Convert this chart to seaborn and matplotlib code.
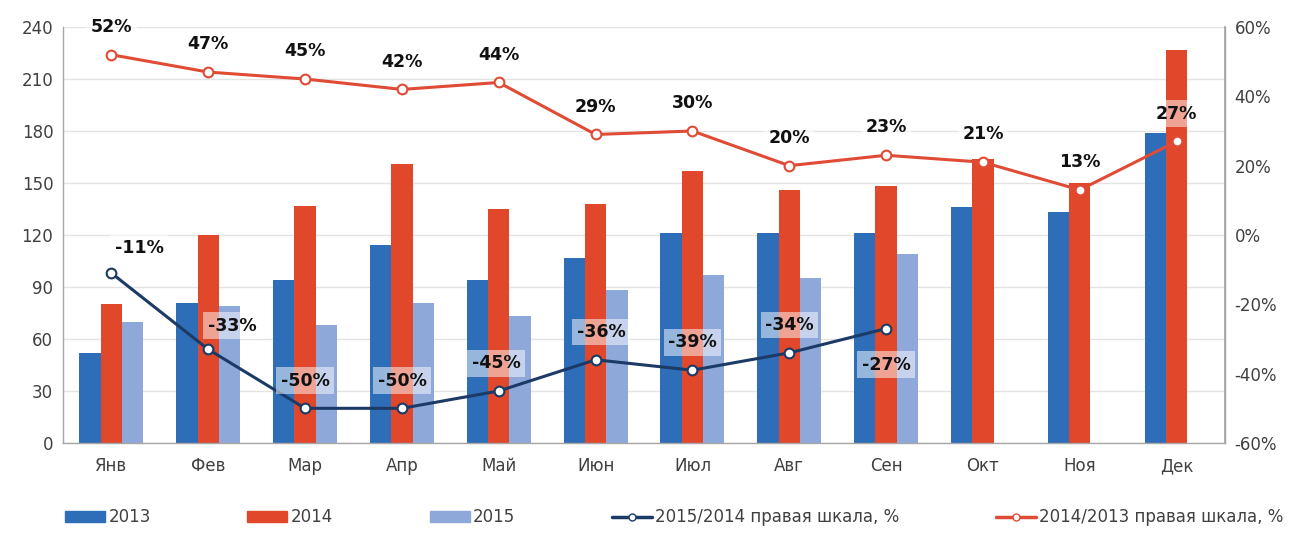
import matplotlib
matplotlib.use("Agg")
import matplotlib.pyplot as plt
from matplotlib.lines import Line2D
from matplotlib.patches import Patch
import numpy as np
import pandas as pd
import seaborn as sns

months = ["Янв", "Фев", "Мар", "Апр", "Май", "Июн", "Июл", "Авг", "Сен", "Окт", "Ноя", "Дек"]
years = ["2013", "2014", "2015"]
v2013 = [52, 81, 94, 114, 94, 107, 121, 121, 121, 136, 133, 179]
v2014 = [80, 120, 137, 161, 135, 138, 157, 146, 148, 164, 150, 227]
v2015 = [70, 79, 68, 81, 73, 88, 97, 95, 109, np.nan, np.nan, np.nan]
g15_14 = [-11, -33, -50, -50, -45, -36, -39, -34, -27]
g14_13 = [52, 47, 45, 42, 44, 29, 30, 20, 23, 21, 13, 27]
left_ticks = [0, 30, 60, 90, 120, 150, 180, 210, 240]
right_ticks = [-60, -40, -20, 0, 20, 40, 60]

c13, c14, c15 = "#2E6DB8", "#E0472B", "#8FA8DA"
c_navy, c_red = "#1B3A66", "#E04B35"
txt = "#404040"

sns.set_theme(style="white")
plt.rcParams["font.family"] = ["DejaVu Sans"]

df = pd.DataFrame({
    "month": months * 3,
    "year": [y for y in years for _ in months],
    "value": v2013 + v2014 + v2015,
})

fig = plt.figure(figsize=(12.97, 5.35), dpi=100)
ax = fig.add_axes([0.0486, 0.172, 0.8959, 0.7775])

sns.barplot(data=df, x="month", y="value", hue="year", order=months,
            hue_order=years, palette=[c13, c14, c15], width=0.66, gap=0,
            saturation=1, ax=ax, legend=False, edgecolor="none")

ax.set_ylim(0, 240)
ax.set_xlim(-0.5, 11.5)
ax.set_yticks(left_ticks)
ax.set_yticklabels([str(t) for t in left_ticks], fontsize=12, color=txt)
ax.set_xticks(range(12))
ax.set_xticklabels(months, fontsize=12, color=txt)
ax.set_xticks(np.arange(-0.5, 12, 1), minor=True)
ax.tick_params(axis="x", which="major", length=0, pad=10)
ax.tick_params(axis="x", which="minor", length=6, color="#A6A6A6", width=1)
ax.tick_params(axis="y", length=0, pad=7)
ax.set_xlabel("")
ax.set_ylabel("")
ax.yaxis.grid(True, color="#E3E3E3", lw=1)
ax.set_axisbelow(True)
ax.spines["top"].set_visible(False)
for s in ["left", "bottom", "right"]:
    ax.spines[s].set_color("#A6A6A6")
    ax.spines[s].set_linewidth(1)

ax2 = ax.twinx()
ax2.set_ylim(-60, 60)
ax2.set_yticks(right_ticks)
ax2.set_yticklabels([f"{t}%" for t in right_ticks], fontsize=12, color=txt)
ax2.tick_params(axis="y", length=0, pad=7)
for s in ["top", "left", "bottom"]:
    ax2.spines[s].set_visible(False)
ax2.spines["right"].set_color("#A6A6A6")
ax2.grid(False)

x_red = np.arange(len(g14_13))
x_navy = np.arange(len(g15_14))
sns.lineplot(x=x_red, y=g14_13, ax=ax2, color=c_red, lw=2.2, marker="o",
             markersize=7, markerfacecolor="white", markeredgecolor=c_red,
             markeredgewidth=1.5, zorder=4)
sns.lineplot(x=x_navy, y=g15_14, ax=ax2, color=c_navy, lw=2.2, marker="o",
             markersize=7, markerfacecolor="white", markeredgecolor=c_navy,
             markeredgewidth=1.5, zorder=4)
ax2.set_xlim(-0.5, 11.5)

box = dict(boxstyle="square,pad=0.25", fc="white", ec="none", alpha=0.5)
for i, v in enumerate(g14_13):
    ax2.annotate(f"{v}%", (i, v), xytext=(0, 20), textcoords="offset points",
                 ha="center", va="center", fontsize=12.5, fontweight="bold",
                 color="#111111", bbox=box, zorder=6)

navy_dx = [20, 17, 0, 0, -2, 4, 0, 0, 0]
navy_dy = [18, 17, 20, 20, 20, 20, 20, 20, -26]
for i, v in enumerate(g15_14):
    ax2.annotate(f"{v}%", (i, v), xytext=(navy_dx[i], navy_dy[i]),
                 textcoords="offset points", ha="center", va="center",
                 fontsize=12.5, fontweight="bold", color="#111111",
                 bbox=box, zorder=6)

handles = [
    Patch(color=c13, label="2013"),
    Patch(color=c14, label="2014"),
    Patch(color=c15, label="2015"),
    Line2D([0], [0], color=c_navy, lw=2.5, marker="o", markersize=5,
           markerfacecolor="white", markeredgecolor=c_navy,
           label="2015/2014 правая шкала, %"),
    Line2D([0], [0], color=c_red, lw=2.5, marker="o", markersize=5,
           markerfacecolor="white", markeredgecolor=c_red,
           label="2014/2013 правая шкала, %"),
]
fig.legend(handles=handles, loc="lower center", ncol=5, frameon=False,
           fontsize=12, bbox_to_anchor=(0.52, -0.012), columnspacing=5.8,
           handlelength=2.4, handletextpad=0.2, labelcolor=txt)

fig.savefig("out.png", dpi=100, facecolor="white")
